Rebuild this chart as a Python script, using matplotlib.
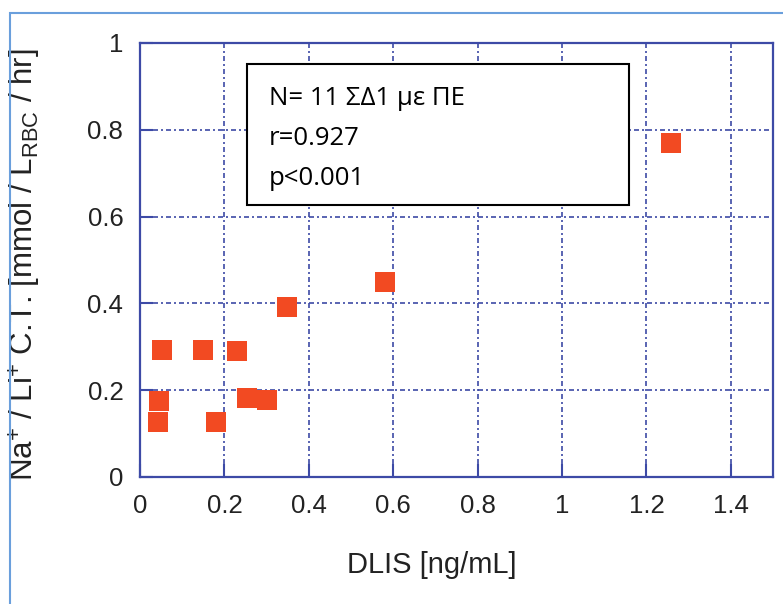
import matplotlib.pyplot as plt
from matplotlib.patches import Rectangle

# DLIS vs Na+/Li+ counter-transport
dlis = [0.052, 0.150, 0.230, 0.045, 0.043, 0.179, 0.254, 0.301, 0.348, 0.581, 1.258]
ct = [0.293, 0.293, 0.291, 0.175, 0.127, 0.127, 0.182, 0.177, 0.392, 0.449, 0.770]

x_ticks = [0, 0.2, 0.4, 0.6, 0.8, 1, 1.2, 1.4]
x_tick_labels = ["0", "0.2", "0.4", "0.6", "0.8", "1", "1.2", "1.4"]
y_ticks = [0, 0.2, 0.4, 0.6, 0.8, 1]
y_tick_labels = ["0", "0.2", "0.4", "0.6", "0.8", "1"]

box_lines = ["N= 11 ΣΔ1 με ΠΕ", "r=0.927", "p<0.001"]

axis_blue = "#3d4aa6"
marker_red = "#f24a22"

plt.rcParams["mathtext.fontset"] = "custom"
plt.rcParams["mathtext.rm"] = "Liberation Sans"
plt.rcParams["mathtext.it"] = "Liberation Sans"

fig = plt.figure(figsize=(7.83, 6.04), dpi=100)
fig.patch.set_facecolor("white")

# light blue screenshot frame
fig.patches.append(Rectangle((10 / 783, -0.1), 1.2, 1 - 13 / 604 + 0.1,
                             transform=fig.transFigure, fill=False,
                             edgecolor="#6a9fdc", linewidth=1.5))

ax = fig.add_axes([140 / 783, 1 - 477 / 604, 633 / 783, 434 / 604])
ax.plot(dlis, ct, linestyle="none", marker="s", markersize=14.5,
        color=marker_red, markeredgewidth=0, zorder=3)

ax.set_xlim(0, 1.5)
ax.set_ylim(0, 1)
ax.set_xticks(x_ticks, x_tick_labels)
ax.set_yticks(y_ticks, y_tick_labels)

ax.grid(True, color=axis_blue, linestyle=(0, (3, 1.8, 1.2, 1.8)), linewidth=1.2)
for sp in ax.spines.values():
    sp.set_color(axis_blue)
    sp.set_linewidth(1.6)
ax.tick_params(direction="in", length=9.5, width=1.5, color=axis_blue,
               labelsize=18.5, labelcolor="#222222", pad=12)
for lab in ax.get_xticklabels() + ax.get_yticklabels():
    lab.set_fontfamily("Liberation Sans")

ax.set_xlabel("DLIS [ng/mL]", fontsize=21, family="Liberation Sans", color="#222222")
ax.xaxis.set_label_coords(0.461, -0.17)
ax.set_ylabel(r"Na$^{+}$ / Li$^{+}$ C.T. [mmol / L$_{\mathrm{RBC}}$ / hr]",
              fontsize=22.5, family="Liberation Sans", color="#222222")
ax.yaxis.set_label_coords(-0.153, 0.49)

# annotation box
ax.add_patch(Rectangle((107 / 633, 272 / 434), 382 / 633, 141 / 434,
                       transform=ax.transAxes, facecolor="white",
                       edgecolor="black", linewidth=1.5, zorder=4))
for i, line in enumerate(box_lines):
    ax.text(0.204, 0.872 - i * 0.092, line, transform=ax.transAxes,
            fontsize=18.5, family=["Open Sans", "DejaVu Sans"], va="center",
            ha="left", color="black", zorder=5)

fig.savefig("out.png", dpi=100)
